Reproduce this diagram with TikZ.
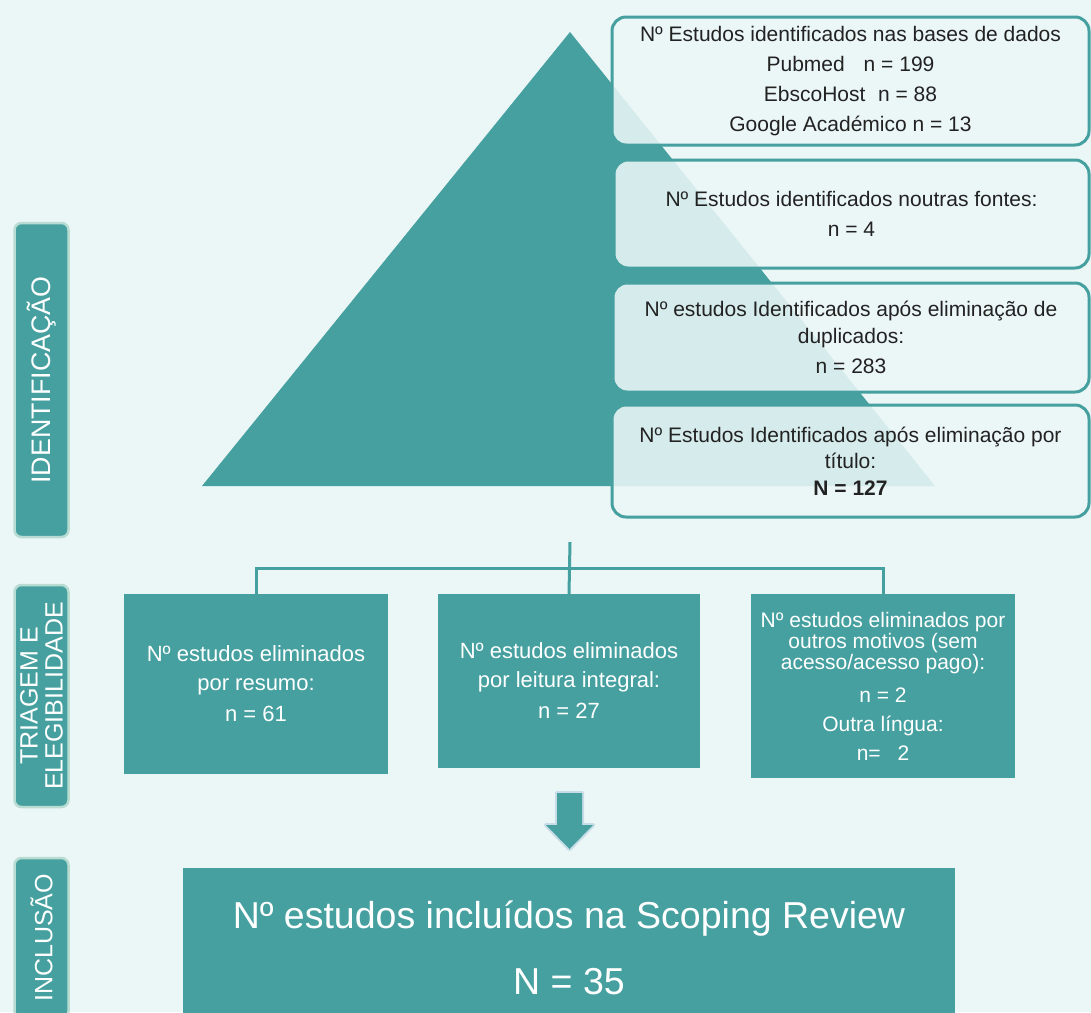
\documentclass[tikz,border=0pt]{standalone}
\usepackage{fontspec}
\setmainfont{Liberation Sans}
\definecolor{bg}{HTML}{EBF6F6}
\definecolor{tealc}{HTML}{46A0A0}
\definecolor{glow}{HTML}{B9DCD2}
\definecolor{arrowglow}{HTML}{C6DCE6}
\definecolor{txt}{HTML}{222222}
\begin{document}
\begin{tikzpicture}[x=1pt,y=-1pt,
  idbox/.style={draw=tealc, line width=3pt, rounded corners=14pt, fill=bg, fill opacity=0.88, text opacity=1, text=txt, align=center, inner sep=0pt},
  tribox/.style={fill=tealc, text=white, align=center, inner sep=0pt, font=\fontsize{22}{29}\selectfont},
  sidelabel/.style={fill=tealc, draw=glow, line width=2.5pt, rounded corners=7pt, text=white, align=center, rotate=90, inner sep=0pt},
  conn/.style={draw=tealc, line width=3pt}
]
\fill[bg] (0,0) rectangle (1091,1012);
\clip (0,0) rectangle (1091,1012);

% triangle
\fill[tealc] (570,32) -- (935,486) -- (202,486) -- cycle;

% identification boxes
\node[idbox, minimum width=477pt, minimum height=128pt, font=\fontsize{21}{30}\selectfont] (b1) at (850.5,81)
  {Nº Estudos identificados nas bases de dados\\Pubmed\hspace{0.9em}n = 199\\EbscoHost\hspace{0.6em}n = 88\\Google Académico n = 13};
\node[idbox, minimum width=475pt, minimum height=108pt, font=\fontsize{21}{30}\selectfont] (b2) at (851.5,214)
  {Nº Estudos identificados noutras fontes:\\n = 4};
\node[idbox, minimum width=476pt, minimum height=109pt, font=\fontsize{21}{27}\selectfont] (b3) at (851,337.5)
  {Nº estudos Identificados após eliminação de\\duplicados:\\[3pt]n = 283};
\node[idbox, minimum width=477pt, minimum height=112pt, font=\fontsize{21}{26}\selectfont] (b4) at (850.5,461)
  {Nº Estudos Identificados após eliminação por\\título:\\[1pt]\textbf{N = 127}};

% side labels
\node[sidelabel, minimum width=314pt, minimum height=54pt, font=\fontsize{26.8}{26}\selectfont] (lid) at (41.5,380) {IDENTIFICAÇÃO};
\node[sidelabel, minimum width=222pt, minimum height=54pt, font=\fontsize{25}{25}\selectfont] (ltri) at (41.5,696) {TRIAGEM E\\ELEGIBILIDADE};
\node[sidelabel, minimum width=160pt, minimum height=54pt, font=\fontsize{25}{25}\selectfont] (linc) at (41.5,938) {INCLUSÃO};

% triage boxes
\node[tribox, minimum width=264pt, minimum height=180pt] (ta) at (256,684)
  {Nº estudos eliminados\\por resumo:\\[2pt]n = 61};
\node[tribox, minimum width=262pt, minimum height=174pt] (tb) at (569,681)
  {Nº estudos eliminados\\por leitura integral:\\[2pt]n = 27};
\node[tribox, minimum width=264pt, minimum height=184pt, font=\fontsize{21}{21}\selectfont] (tc) at (883,686)
  {Nº estudos eliminados por\\outros motivos (sem\\acesso/acesso pago):\\[12pt]n = 2\\[8pt]Outra língua:\\[8pt]n=\hspace{0.8em}2};

% connectors
\coordinate (top) at (570,542);
\coordinate (split) at (570,568);
\draw[conn] (top) -- (tb.north);
\draw[conn] (ta.north) -- (ta.north |- split) -- (tc.north |- split) -- (tc.north);

% block arrow
\draw[arrowglow, line width=4pt, line join=round] (557,793) -- (582,793) -- (582,825) -- (593,825) -- (569.5,849) -- (546,825) -- (557,825) -- cycle;
\fill[tealc] (557,793) -- (582,793) -- (582,825) -- (593,825) -- (569.5,849) -- (546,825) -- (557,825) -- cycle;

% inclusion box
\node[fill=tealc, text=white, align=center, inner sep=0pt, minimum width=772pt, minimum height=160pt, font=\fontsize{37.5}{66}\selectfont] (fin) at (569,948)
  {Nº estudos incluídos na Scoping Review\\N = 35};
\end{tikzpicture}
\end{document}
